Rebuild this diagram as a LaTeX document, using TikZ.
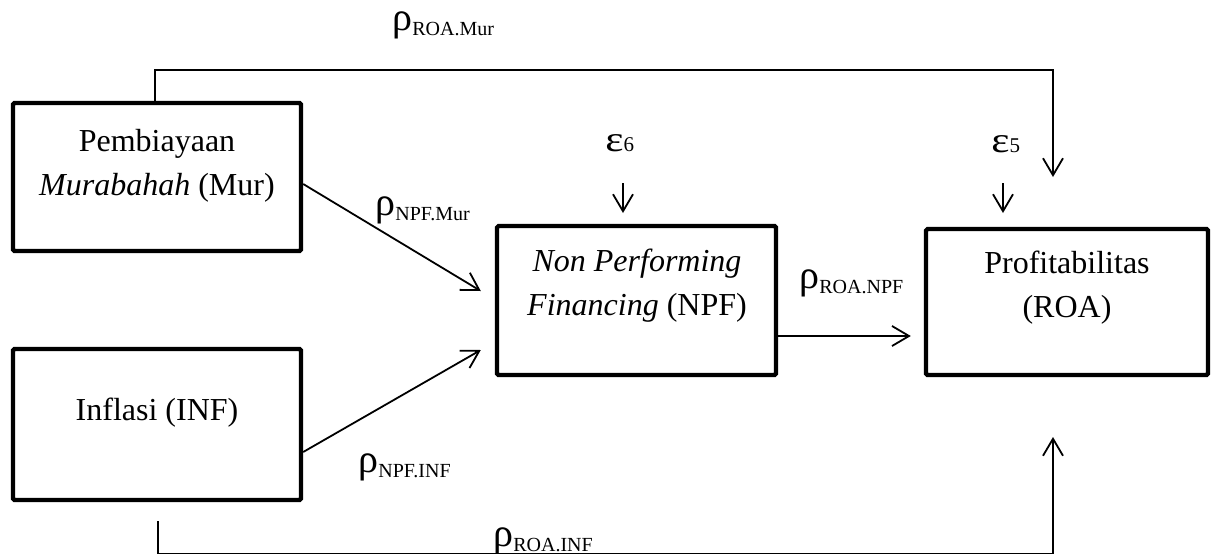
\documentclass[tikz,border=0pt]{standalone}
\usepackage{fontspec}
\usepackage{graphicx}
\setmainfont{Liberation Serif}
\usetikzlibrary{arrows.meta}

% path coefficient: large rho with a lowered subscript
\newcommand\rhosub[1]{\raisebox{2.3pt}{\fontsize{20}{20}\selectfont ρ}{\fontsize{10}{10}\selectfont #1}}
% residual term: wide epsilon with its index
\newcommand\epssub[1]{\scalebox{1.2}[1]{\fontsize{18}{18}\selectfont ε}{\fontsize{10.5}{11}\selectfont #1}}

\begin{document}
\begin{tikzpicture}[x=0.5pt,y=-0.5pt,
  box/.style={draw, line width=2.2pt, rounded corners=0.8pt, inner sep=0pt},
  boxtext/.style={align=center, font=\fontsize{16}{22}\selectfont, inner sep=0pt},
  coef/.style={inner sep=0pt, anchor=base west},
  link/.style={line width=0.9pt},
  arr/.style={link, -{Straight Barb[length=8.5pt,width=10pt]}}]

\path[use as bounding box, fill=white] (0,0) rectangle (1217,553);
\clip (0,0) rectangle (1217,553);

% variable boxes
\node[box, minimum width=144pt, minimum height=74pt] (mur) at (157,177) {};
\node[box, minimum width=144pt, minimum height=75.5pt] (inf) at (157,424.5) {};
\node[box, minimum width=139.5pt, minimum height=74.5pt] (npf) at (636.5,300.5) {};
\node[box, minimum width=141pt, minimum height=73pt] (roa) at (1067,302) {};

% box captions
\node[boxtext] (murtext) at (157,165.5) {Pembiayaan\\\textit{Murabahah} (Mur)};
\node[boxtext] (inftext) at (157,413) {Inflasi (INF)};
\node[boxtext] (npftext) at (637,285.5) {\textit{Non Performing}\\\textit{Financing} (NPF)};
\node[boxtext] (roatext) at (1067,287.5) {Profitabilitas\\(ROA)};

% residual terms
\node[coef] (e6) at (605,151) {\epssub{6}};
\node[coef] (e5) at (991,152) {\epssub{5}};
\coordinate (e6from) at (623,183);
\coordinate (e6to) at (623,213);
\coordinate (e5from) at (1003,183);
\coordinate (e5to) at (1003,213);
\draw[arr] (e6from) -- (e6to);
\draw[arr] (e5from) -- (e5to);

% direct paths
\draw[arr] ([yshift=-3.5pt]mur.east) -- ([xshift=-7pt,yshift=4.75pt]npf.west);
\draw[arr] ([yshift=-13.75pt]inf.east) -- ([xshift=-7pt,yshift=-24.75pt]npf.west);
\draw[arr] ([yshift=-17.75pt]npf.east) -- ([xshift=-6.5pt,yshift=-17pt]roa.west);

% paths around the mediator
\coordinate (topright) at (1053,70);
\coordinate (roamurend) at (1053,177);
\draw[arr] ([xshift=-1pt]mur.north) |- (topright) -- (roamurend);

\coordinate (inflow) at (158,521);
\coordinate (bottomright) at (1053,553.5);
\coordinate (roainfend) at (1053,437);
\draw[arr] (inflow) |- (bottomright) -- (roainfend);

% coefficient labels
\node[coef] (pRoaMur) at (392,35) {\rhosub{ROA.Mur}};
\node[coef] (pNpfMur) at (375,220) {\rhosub{NPF.Mur}};
\node[coef] (pNpfInf) at (358,477) {\rhosub{NPF.INF}};
\node[coef] (pRoaNpf) at (799,293) {\rhosub{ROA.NPF}};
\node[coef] (pRoaInf) at (493,551) {\rhosub{ROA.INF}};
\end{tikzpicture}
\end{document}
